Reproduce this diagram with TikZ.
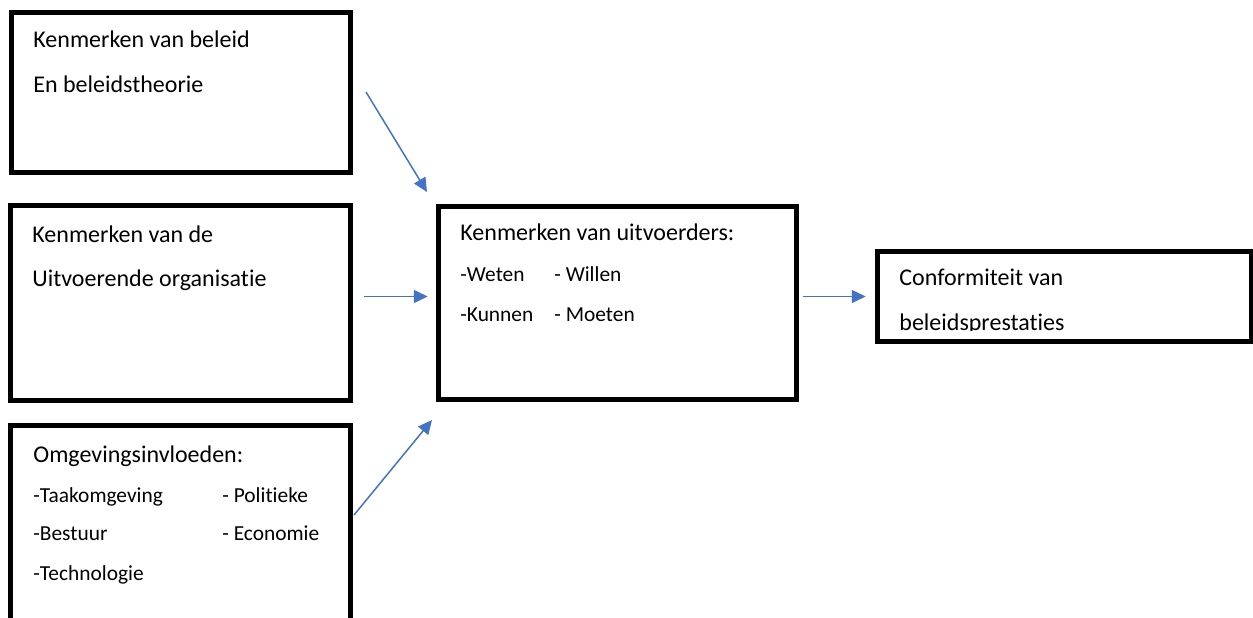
\documentclass[tikz,border=0pt]{standalone}
\usepackage{fontspec}
\setmainfont{Carlito}[Ligatures=NoCommon]
\usepackage{tikz}
\usetikzlibrary{arrows.meta,positioning}
\definecolor{pijlblauw}{HTML}{4472C4}

\begin{document}
\begin{tikzpicture}[x=0.5pt,y=-0.5pt,box/.style={draw,line width=2.5pt,inner sep=0pt},pijl/.style={-{Triangle[length=7pt,width=6.5pt]},draw=pijlblauw,line width=0.75pt},tekst/.style={anchor=base west,inner sep=0pt,font=\fontsize{12}{14}\selectfont},klein/.style={tekst,font=\fontsize{10.7}{13}\selectfont}]

      \clip (0,0) rectangle (1253,617);

      \node[box,minimum width=169.75pt,minimum height=80.25pt] (beleid) at (180.75,92.25) {};
      \node[box,minimum width=170pt,minimum height=97.25pt] (org) [below=14pt of beleid] {};
      \node[box,minimum width=170pt,minimum height=137.25pt] (omgeving) [below=10.25pt of org] {};
      \node[box,minimum width=179pt,minimum height=96.25pt] (uitv) [right=41.25pt of org] {};
      \node[box,minimum width=187pt,minimum height=45pt,yshift=3.125pt] (conf) [right=38pt of uitv] {};

      \node[tekst] (b1) at (33,47) {Kenmerken van beleid};
      \node[tekst] (b2) at (33,92) {En beleidstheorie};

      \node[tekst] (o1) at (32,242) {Kenmerken van de};
      \node[tekst] (o2) at (32,286) {Uitvoerende organisatie};

      \node[tekst] (g1) at (33,462) {Omgevingsinvloeden:};
      \node[klein] (g2) at (33,502) {-Taakomgeving};
      \node[klein] (g3) at (222,502) {- Politieke};
      \node[klein] (g4) at (33,540) {-Bestuur};
      \node[klein] (g5) at (222,540) {- Economie};
      \node[klein] (g6) at (33,580) {-Technologie};

      \node[tekst] (u1) at (460,240) {Kenmerken van uitvoerders:};
      \node[klein] (u2) at (460,281) {-Weten};
      \node[klein] (u3) at (554,281) {- Willen};
      \node[klein] (u4) at (460,321) {-Kunnen};
      \node[klein] (u5) at (554,321) {- Moeten};

      \node[tekst] (c1) at (899,285) {Conformiteit van};
      \begin{scope}
        \clip (879,253) rectangle (1248,330);
        \node[tekst] (c2) at (899,330.5) {beleidsprestaties};
      \end{scope}

      \coordinate (s1) at (366,92);
      \coordinate (e1) at (427,192);
      \coordinate (s3) at (354,515);
      \coordinate (e3) at (432,420);

      \draw[pijl] (s1) -- (e1);
      \draw[pijl,shorten <=5.25pt,shorten >=4pt] (org.east |- conf.west) -- (uitv.west |- conf.west);
      \draw[pijl] (s3) -- (e3);
      \draw[pijl,shorten <=2pt,shorten >=4.5pt] (uitv.east |- conf.west) -- (conf.west);

    \end{tikzpicture}
\end{document}
